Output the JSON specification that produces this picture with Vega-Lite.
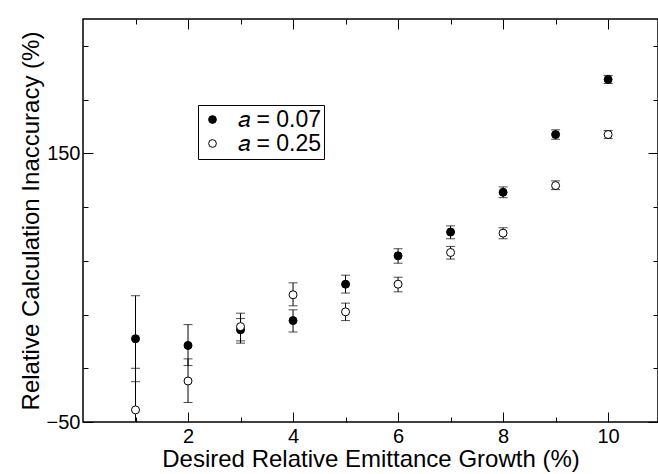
{
  "$schema": "https://vega.github.io/schema/vega-lite/v6.json",
  "width": 575,
  "height": 403,
  "autosize": {"type": "none"},
  "padding": {"left": 83, "top": 19, "right": 0, "bottom": 52},
  "background": "white",
  "config": {
    "font": "Liberation Sans",
    "view": {"stroke": "black", "strokeWidth": 1.5},
    "axis": {
      "domain": false,
      "ticks": false,
      "labelColor": "black",
      "labelFont": "Liberation Sans",
      "labelFontSize": 20,
      "titleFont": "Liberation Sans",
      "titleFontSize": 24,
      "titleFontWeight": "normal",
      "titleColor": "black"
    },
    "legend": {
      "orient": "none",
      "legendX": 115,
      "legendY": 86,
      "strokeColor": "black",
      "strokeWidth": 1,
      "fillColor": "white",
      "padding": 3,
      "labelFont": "Liberation Sans",
      "labelFontSize": 23,
      "labelColor": "black",
      "symbolSize": 60,
      "symbolStrokeColor": "black",
      "symbolStrokeWidth": 1,
      "symbolType": "circle",
      "rowPadding": 0,
      "labelOffset": 14
    }
  },
  "datasets": {
    "points": [
      {"x": 1, "y": 12, "lo": -20, "hi": 44, "series": "a = 0.07"},
      {"x": 2, "y": 7, "lo": -8, "hi": 22.5, "series": "a = 0.07"},
      {"x": 3, "y": 18.6, "lo": 8.7, "hi": 27, "series": "a = 0.07"},
      {"x": 4, "y": 25.5, "lo": 17, "hi": 33.5, "series": "a = 0.07"},
      {"x": 5, "y": 52.6, "lo": 46, "hi": 59.3, "series": "a = 0.07"},
      {"x": 6, "y": 73.7, "lo": 68.2, "hi": 79, "series": "a = 0.07"},
      {"x": 7, "y": 91.4, "lo": 86.4, "hi": 96, "series": "a = 0.07"},
      {"x": 8, "y": 121, "lo": 117, "hi": 125, "series": "a = 0.07"},
      {"x": 9, "y": 164, "lo": 160.5, "hi": 167.5, "series": "a = 0.07"},
      {"x": 10, "y": 205, "lo": 202, "hi": 208, "series": "a = 0.07"},
      {"x": 1, "y": -41, "lo": -72, "hi": -10, "series": "a = 0.25"},
      {"x": 2, "y": -19.5, "lo": -35.5, "hi": -3, "series": "a = 0.25"},
      {"x": 3, "y": 21, "lo": 10.4, "hi": 31, "series": "a = 0.25"},
      {"x": 4, "y": 44.7, "lo": 36.5, "hi": 53.6, "series": "a = 0.25"},
      {"x": 5, "y": 32, "lo": 25.5, "hi": 38.5, "series": "a = 0.25"},
      {"x": 6, "y": 52.6, "lo": 46.9, "hi": 57.8, "series": "a = 0.25"},
      {"x": 7, "y": 76.2, "lo": 71.3, "hi": 80.7, "series": "a = 0.25"},
      {"x": 8, "y": 90.6, "lo": 86.4, "hi": 94.6, "series": "a = 0.25"},
      {"x": 9, "y": 126, "lo": 123, "hi": 129.5, "series": "a = 0.25"},
      {"x": 10, "y": 164, "lo": 161, "hi": 167, "series": "a = 0.25"}
    ]
  },
  "layer": [
    {
      "data": {"name": "points"},
      "mark": {"type": "rule", "clip": true, "color": "black", "strokeWidth": 1},
      "encoding": {
        "x": {
          "field": "x", "type": "quantitative",
          "scale": {"domain": [0, 10.95], "nice": false, "zero": false},
          "axis": {
            "orient": "bottom",
            "values": [1, 2, 3, 4, 5, 6, 7, 8, 9, 10],
            "grid": true,
            "gridColor": "black",
            "gridOpacity": 1,
            "gridWidth": 1,
            "gridDash": {"condition": {"test": "datum.value % 2 === 0", "value": [10, 383, 10]}, "value": [5, 393, 5]},
            "labelExpr": "datum.value % 2 === 0 ? datum.label : ''",
            "labelPadding": 4,
            "labelFlush": false,
            "labelOverlap": false,
            "title": "Desired Relative Emittance Growth (%)",
            "titlePadding": 1
          }
        },
        "y": {
          "field": "lo", "type": "quantitative",
          "scale": {"domain": [-50, 250], "nice": false, "zero": false},
          "axis": {
            "orient": "left",
            "values": [-50, -40, -30, -20, -10, 0, 10, 20, 30, 40, 50, 60, 70, 80, 90, 100, 110, 120, 130, 140, 150, 160, 170, 180, 190, 200, 210, 220, 230, 240, 250],
            "grid": true,
            "gridColor": "black",
            "gridOpacity": 1,
            "gridWidth": 1,
            "gridDash": {"condition": {"test": "datum.value % 50 === 0", "value": [10, 555, 10]}, "value": [5, 565, 5]},
            "labelExpr": "datum.value % 50 === 0 ? datum.label : ''",
            "labelPadding": 3,
            "labelFlush": false,
            "labelOverlap": false,
            "title": "Relative Calculation Inaccuracy (%)",
            "titlePadding": 3
          }
        },
        "y2": {"field": "hi"}
      }
    },
    {
      "data": {"name": "points"},
      "mark": {"type": "tick", "orient": "horizontal", "clip": true, "color": "black", "thickness": 1, "size": 9},
      "encoding": {
        "x": {"field": "x", "type": "quantitative"},
        "y": {"field": "lo", "type": "quantitative"}
      }
    },
    {
      "data": {"name": "points"},
      "mark": {"type": "tick", "orient": "horizontal", "clip": true, "color": "black", "thickness": 1, "size": 9},
      "encoding": {
        "x": {"field": "x", "type": "quantitative"},
        "y": {"field": "hi", "type": "quantitative"}
      }
    },
    {
      "data": {"name": "points"},
      "mark": {"type": "point", "shape": "circle", "size": 64, "stroke": "black", "strokeWidth": 1, "opacity": 1, "filled": false},
      "encoding": {
        "x": {"field": "x", "type": "quantitative"},
        "y": {"field": "y", "type": "quantitative"},
        "fill": {
          "field": "series", "type": "nominal",
          "scale": {"domain": ["a = 0.07", "a = 0.25"], "range": ["black", "white"]},
          "legend": {"title": null, "labelExpr": "datum.label == 'a = 0.07' ? '𝑎 = 0.07' : '𝑎 = 0.25'"}
        }
      }
    }
  ]
}
